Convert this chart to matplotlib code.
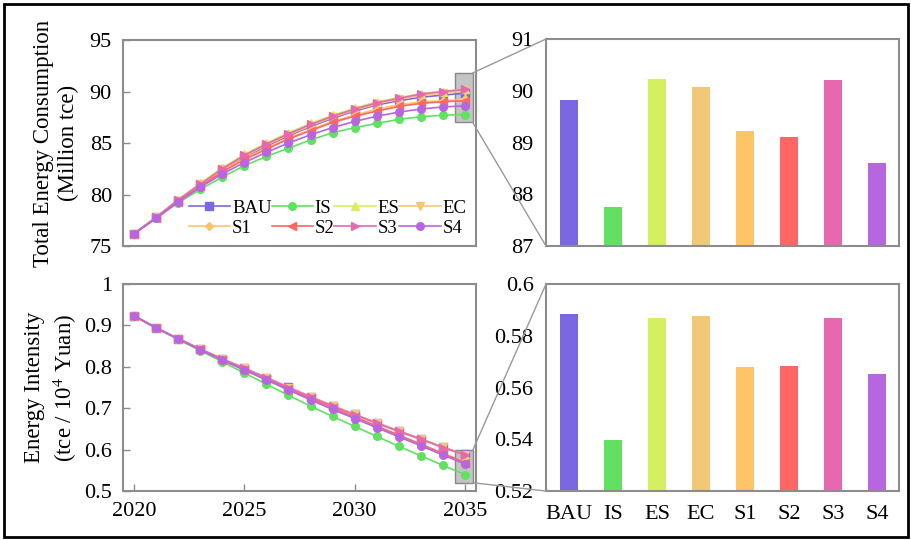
import numpy as np
import matplotlib
matplotlib.use('Agg')
import matplotlib.pyplot as plt
from matplotlib.patches import Rectangle, ConnectionPatch

plt.rcParams['font.family'] = ['Liberation Serif', 'DejaVu Serif']
plt.rcParams['mathtext.fontset'] = 'stix'

years = np.arange(2020, 2036)
scenarios = ['BAU', 'IS', 'ES', 'EC', 'S1', 'S2', 'S3', 'S4']
colors = ['#7b68e0', '#62e062', '#d4f060', '#f0c878', '#ffc466', '#ff6666', '#e868b0', '#b866e0']
markers = ['s', 'o', '^', 'v', 'D', '<', '>', 'o']

# total energy consumption (Million tce)
tec = {
    'BAU': [76.2, 77.8, 79.4, 80.9, 82.4, 83.6, 84.7, 85.7, 86.6, 87.4, 88.1, 88.7, 89.1, 89.45, 89.65, 89.83],
    'IS':  [76.2, 77.7, 79.2, 80.5, 81.7, 82.8, 83.7, 84.5, 85.3, 86.0, 86.5, 86.9, 87.3, 87.55, 87.7, 87.76],
    'ES':  [76.2, 77.8, 79.5, 81.1, 82.6, 83.9, 85.0, 86.0, 86.9, 87.7, 88.4, 89.0, 89.4, 89.8, 90.0, 90.23],
    'EC':  [76.2, 77.8, 79.4, 81.0, 82.5, 83.7, 84.8, 85.8, 86.7, 87.5, 88.2, 88.8, 89.25, 89.6, 89.85, 90.08],
    'S1':  [76.2, 77.7, 79.4, 80.9, 82.3, 83.5, 84.5, 85.5, 86.3, 87.1, 87.7, 88.3, 88.7, 89.0, 89.1, 89.23],
    'S2':  [76.2, 77.7, 79.3, 80.8, 82.2, 83.4, 84.4, 85.4, 86.2, 87.0, 87.6, 88.1, 88.55, 88.85, 89.0, 89.11],
    'S3':  [76.2, 77.8, 79.5, 81.0, 82.5, 83.8, 84.9, 85.9, 86.8, 87.6, 88.3, 88.9, 89.35, 89.75, 90.0, 90.20],
    'S4':  [76.2, 77.7, 79.3, 80.7, 82.0, 83.1, 84.1, 85.0, 85.8, 86.5, 87.1, 87.6, 88.0, 88.3, 88.5, 88.61],
}
# energy intensity (tce / 10^4 Yuan)
ei = {
    'BAU': [0.923, 0.894, 0.868, 0.843, 0.819, 0.797, 0.774, 0.751, 0.728, 0.706, 0.685, 0.665, 0.645, 0.626, 0.606, 0.5883],
    'IS':  [0.923, 0.894, 0.866, 0.839, 0.812, 0.785, 0.758, 0.731, 0.705, 0.680, 0.656, 0.632, 0.608, 0.585, 0.562, 0.5399],
    'ES':  [0.923, 0.894, 0.868, 0.843, 0.819, 0.796, 0.773, 0.750, 0.727, 0.705, 0.684, 0.664, 0.644, 0.625, 0.605, 0.5870],
    'EC':  [0.923, 0.894, 0.868, 0.843, 0.819, 0.796, 0.773, 0.750, 0.728, 0.706, 0.685, 0.664, 0.644, 0.625, 0.606, 0.5875],
    'S1':  [0.923, 0.894, 0.867, 0.842, 0.817, 0.793, 0.770, 0.746, 0.723, 0.700, 0.678, 0.656, 0.634, 0.612, 0.590, 0.5680],
    'S2':  [0.923, 0.894, 0.867, 0.842, 0.817, 0.793, 0.770, 0.747, 0.724, 0.701, 0.679, 0.657, 0.635, 0.613, 0.591, 0.5685],
    'S3':  [0.923, 0.894, 0.868, 0.843, 0.819, 0.796, 0.773, 0.750, 0.727, 0.705, 0.684, 0.664, 0.644, 0.625, 0.605, 0.5870],
    'S4':  [0.923, 0.894, 0.867, 0.841, 0.816, 0.792, 0.768, 0.744, 0.720, 0.697, 0.675, 0.653, 0.631, 0.609, 0.587, 0.5652],
}
tec_2035 = [89.83, 87.76, 90.23, 90.08, 89.23, 89.11, 90.20, 88.61]
ei_2035 = [0.5883, 0.5399, 0.5870, 0.5875, 0.5680, 0.5685, 0.5870, 0.5652]

fig = plt.figure(figsize=(9.12, 5.4), dpi=100)
ax1 = fig.add_axes([0.1349, 0.5444, 0.387, 0.3815])
ax2 = fig.add_axes([0.1349, 0.0907, 0.387, 0.3834])
ax3 = fig.add_axes([0.5987, 0.5444, 0.387, 0.3834])
ax4 = fig.add_axes([0.5987, 0.0907, 0.387, 0.3834])

spine_c = '#8c8c8c'
for ax in [ax1, ax2, ax3, ax4]:
    for s in ax.spines.values():
        s.set_color(spine_c)
        s.set_linewidth(1.5)
    ax.tick_params(labelsize=16, colors='black')
    ax.tick_params(axis='both', color=spine_c)

for i, sc in enumerate(scenarios):
    ms = 4.5 if markers[i] == 'D' else 5.5
    ax1.plot(years, tec[sc], color=colors[i], marker=markers[i], ms=ms, lw=1.2, label=sc, zorder=3)
    ax2.plot(years, ei[sc], color=colors[i], marker=markers[i], ms=ms, lw=1.2, label=sc, zorder=3)

ax1.set_xlim(2019.5, 2035.5)
ax1.set_ylim(75, 95)
ax1.set_yticks([75, 80, 85, 90, 95])
ax1.set_xticks([])
ax1.tick_params(axis='y', direction='in', length=5, width=1, pad=8)
ax1.set_ylabel('Total Energy Consumption\n(Million tce)', fontsize=16.5, linespacing=1.25)
ax1.yaxis.set_label_coords(-0.125, 0.5)

# legend filled row by row (matplotlib fills by column)
h, l = ax1.get_legend_handles_labels()
order = [0, 4, 1, 5, 2, 6, 3, 7]
ax1.legend([h[k] for k in order], [l[k] for k in order], ncol=4, loc='lower right',
           frameon=False, fontsize=13.5, handlelength=2.2, columnspacing=0.0,
           handletextpad=0.1, labelspacing=0.15, borderaxespad=0.1)

ax2.set_xlim(2019.5, 2035.5)
ax2.set_ylim(0.5, 1.0)
ax2.set_xticks([2020, 2025, 2030, 2035])
ax2.set_yticks([0.5, 0.6, 0.7, 0.8, 0.9, 1.0])
ax2.set_yticklabels(['0.5', '0.6', '0.7', '0.8', '0.9', '1'])
ax2.tick_params(axis='y', direction='in', length=5, width=1, pad=8)
ax2.tick_params(axis='x', direction='in', length=5, width=1, pad=8)
ax2.set_ylabel('Energy Intensity\n(tce / 10$^4$ Yuan)', fontsize=16.5, linespacing=1.25)
ax2.yaxis.set_label_coords(-0.125, 0.5)

x = np.arange(len(scenarios))
ax3.bar(x, np.array(tec_2035) - 87, bottom=87, width=0.4, color=colors)
ax3.set_xlim(-0.52, 7.5)
ax3.set_ylim(87, 91)
ax3.set_yticks([87, 88, 89, 90, 91])
ax3.set_xticks([])
ax3.tick_params(axis='y', length=0, pad=9)

ax4.bar(x, np.array(ei_2035) - 0.52, bottom=0.52, width=0.4, color=colors)
ax4.set_xlim(-0.52, 7.5)
ax4.set_ylim(0.52, 0.6)
ax4.set_yticks([0.52, 0.54, 0.56, 0.58, 0.6])
ax4.set_yticklabels(['0.52', '0.54', '0.56', '0.58', '0.6'])
ax4.set_xticks(x)
ax4.set_xticklabels(scenarios, fontsize=16)
ax4.tick_params(axis='y', length=0, pad=9)
ax4.tick_params(axis='x', length=0, pad=10)

# zoom boxes
r1 = Rectangle((2034.55, 87.0), 0.8, 4.8, facecolor='#c4c4c4', edgecolor='#888888', lw=1, zorder=1)
ax1.add_patch(r1)
r2 = Rectangle((2034.55, 0.52), 0.8, 0.078, facecolor='#c4c4c4', edgecolor='#888888', lw=1, zorder=1)
ax2.add_patch(r2)

for axa, axb, (x0, y0), (x1, y1), top_y, bot_y in [
        (ax1, ax3, (2035.35, 91.8), (2035.35, 87.0), 91, 87),
        (ax2, ax4, (2035.35, 0.598), (2035.35, 0.52), 0.6, 0.52)]:
    c1 = ConnectionPatch(xyA=(x0, y0), coordsA=axa.transData, xyB=(-0.52, top_y), coordsB=axb.transData,
                         color='#999999', lw=1)
    c2 = ConnectionPatch(xyA=(x1, y1), coordsA=axa.transData, xyB=(-0.52, bot_y), coordsB=axb.transData,
                         color='#999999', lw=1)
    fig.add_artist(c1)
    fig.add_artist(c2)

# figure border
fig.add_artist(Rectangle((0.004, 0.006), 0.992, 0.986, transform=fig.transFigure, fill=False,
                         edgecolor='black', lw=2))

fig.savefig('out.png', dpi=100)
